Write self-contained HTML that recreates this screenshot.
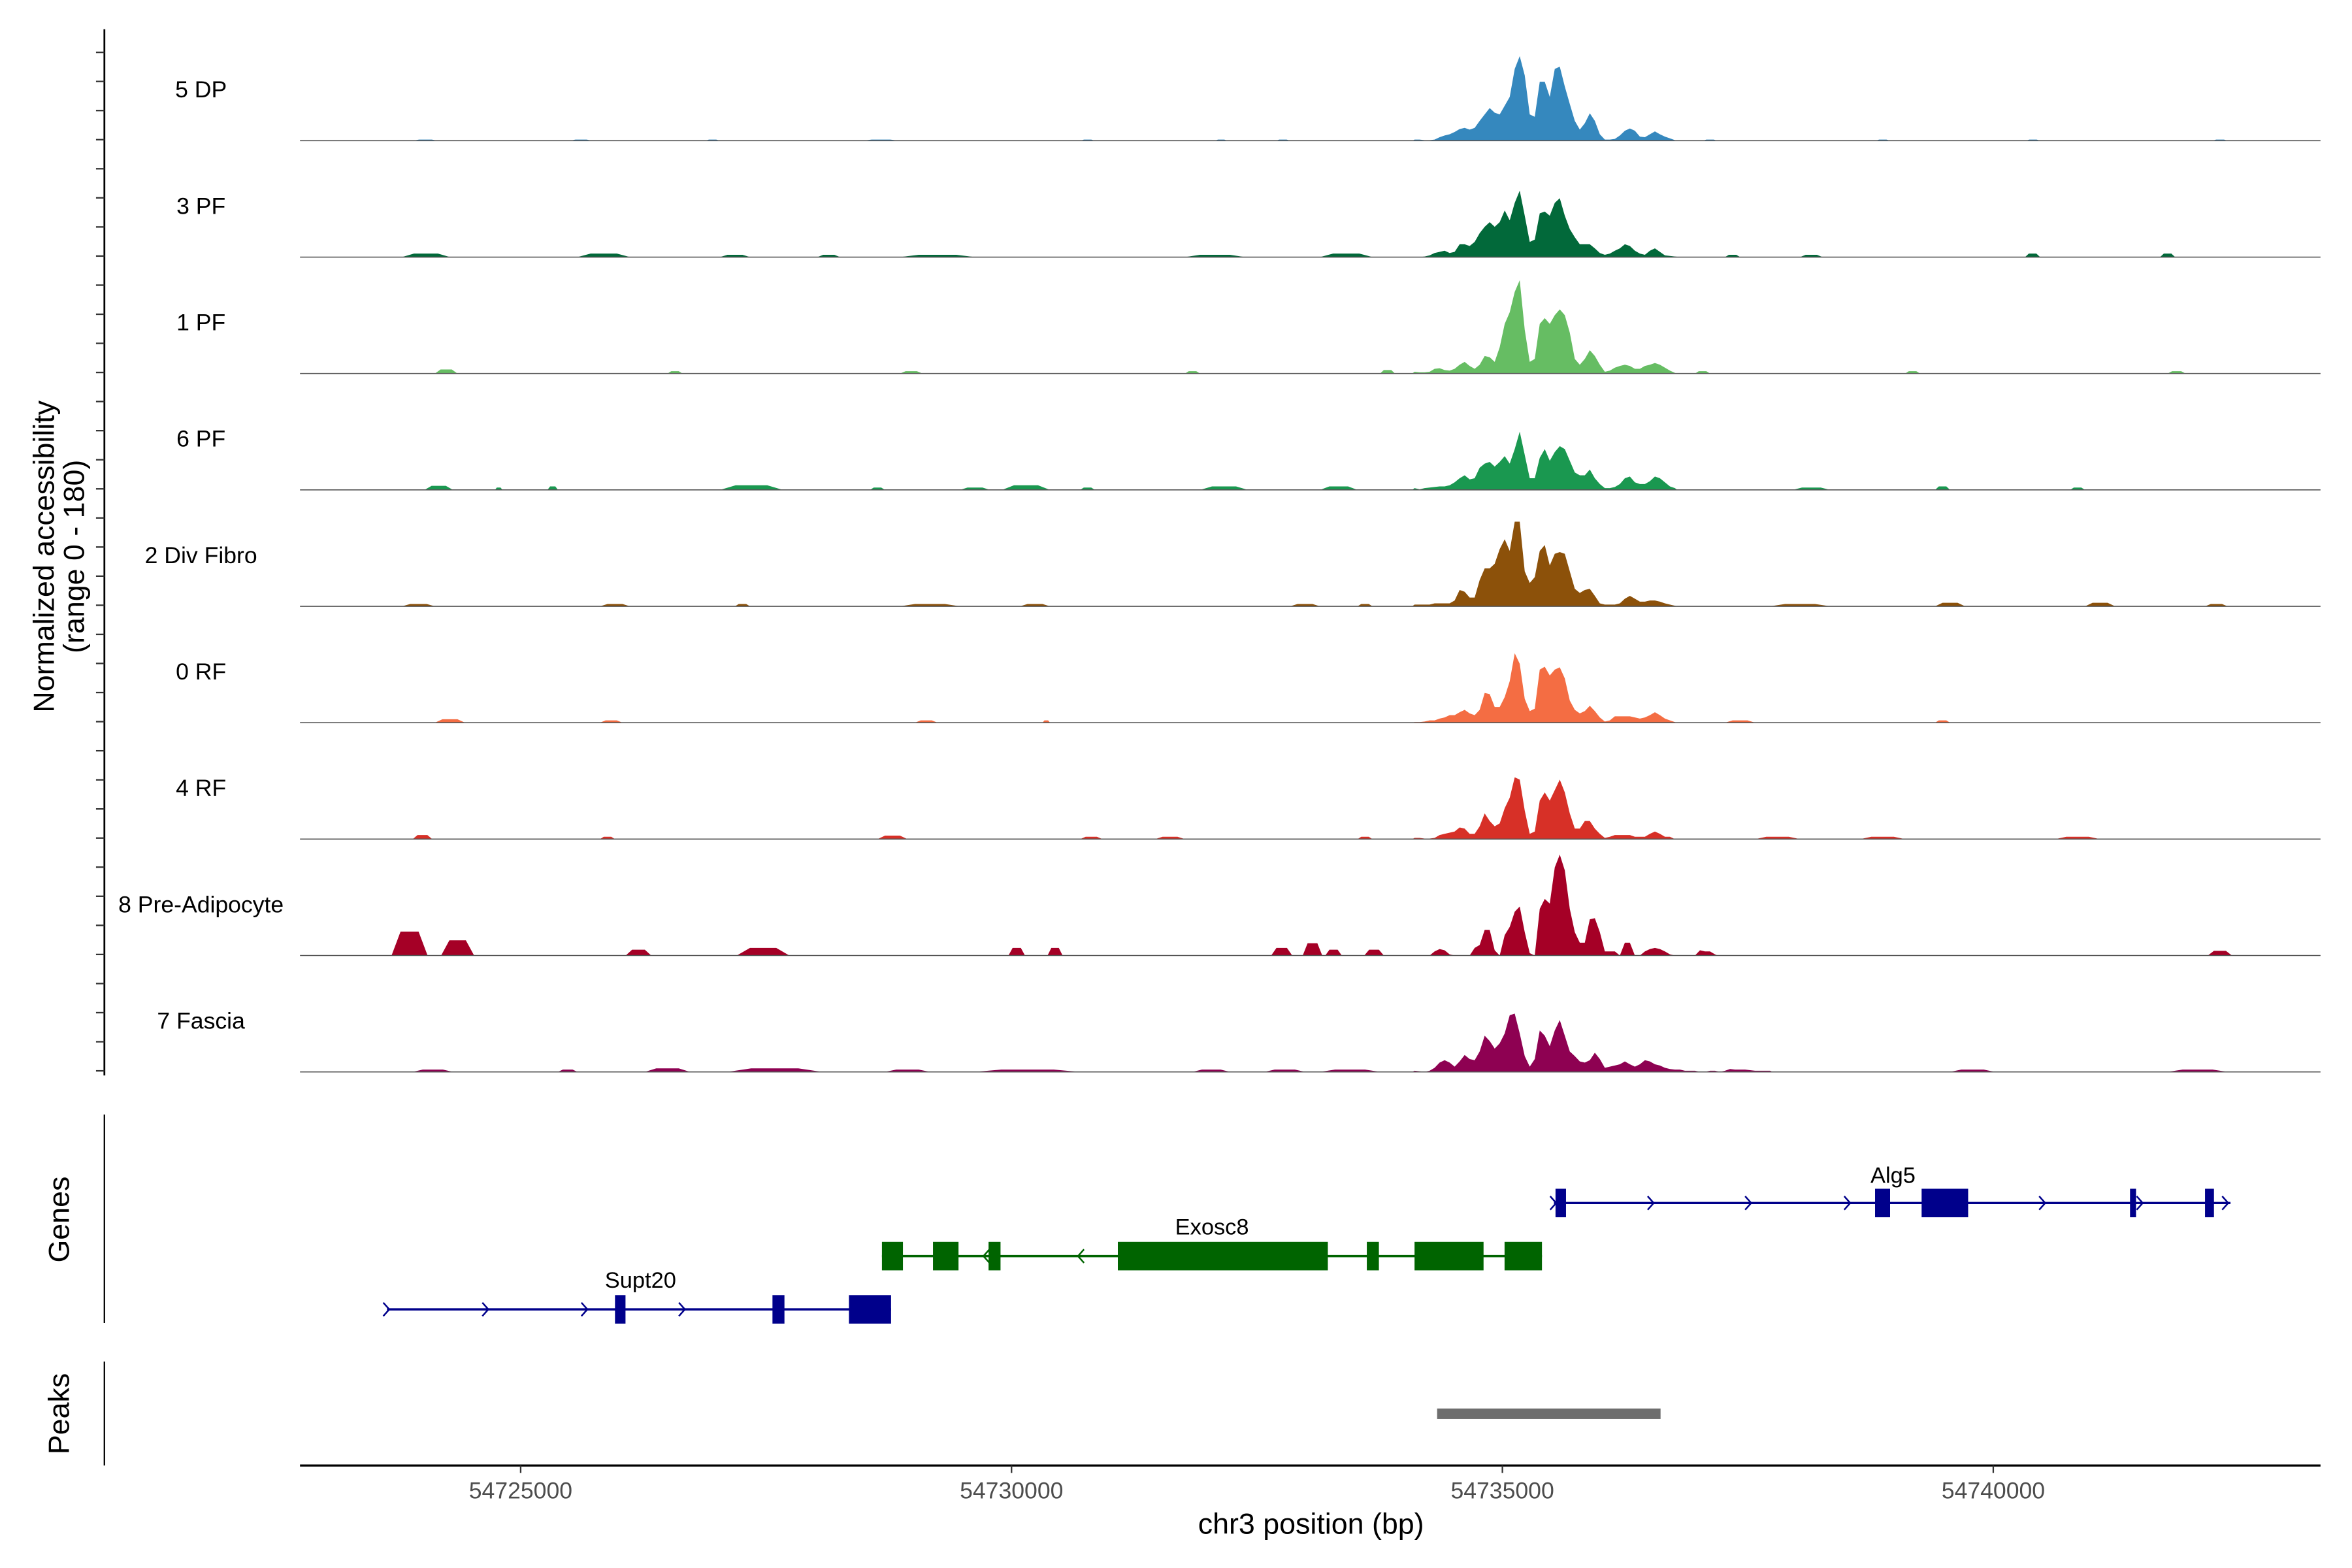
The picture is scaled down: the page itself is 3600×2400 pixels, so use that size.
<!DOCTYPE html>
<html><head><meta charset="utf-8">
<style>
html,body{margin:0;padding:0;background:#fff;}
svg{display:block;font-family:"Liberation Sans",Arial,sans-serif;}
</style></head>
<body>
<svg id="chart" xmlns="http://www.w3.org/2000/svg" width="3600" height="2400" viewBox="0 0 1568 1045.33">
<rect x="0" y="0" width="1568" height="1045.33" fill="#fff"/>
<g id="tracks"></g>
<g id="yaxis"></g>
<text transform="translate(36,371) rotate(-90)" text-anchor="middle" font-size="19.5" fill="#000">Normalized accessibility</text>
<text transform="translate(56,371) rotate(-90)" text-anchor="middle" font-size="19.5" fill="#000">(range 0 - 180)</text>
<g id="genes"></g>
<line x1="69.6" y1="743" x2="69.6" y2="882" stroke="#000" stroke-width="1"/>
<text transform="translate(46,813) rotate(-90)" text-anchor="middle" font-size="19.5" fill="#000">Genes</text>
<line x1="69.6" y1="907.7" x2="69.6" y2="977" stroke="#000" stroke-width="1"/>
<text transform="translate(46,942.5) rotate(-90)" text-anchor="middle" font-size="19.5" fill="#000">Peaks</text>
<g id="peaks"></g>
<g id="xaxis"></g>
<text x="874" y="1022.5" text-anchor="middle" font-size="19.5" fill="#000">chr3 position (bp)</text>
</svg>
<script>
// ---------- data ----------
const regionStart = 54720000;
const binStart = 14080;   // relative bp of first profile bin
const binSize = 51;
const trackNames = ["5 DP","3 PF","1 PF","6 PF","2 Div Fibro","0 RF","4 RF","8 Pre-Adipocyte","7 Fascia"];
const trackColors = ["#3588BE","#02693A","#66BD63","#1A9850","#8C510A","#F46D43","#D73027","#A50026","#8E0152"];
const dp5 = [2,2,1,1,2,6,9,11,15,20,22,19,22,34,45,56,48,45,60,75,123,145,112,45,41,101,101,75,123,127,93,63,34,19,30,47,34,11,2,2,3,9,17,21,17,7,6,11,16,11,7,4,1,1,1];
const pf3 = [0,0,1,3,7,9,11,7,9,22,22,19,26,41,52,60,52,60,80,63,93,114,71,26,30,75,78,71,93,101,71,48,34,22,22,22,15,7,4,6,11,15,22,19,11,6,4,11,15,9,3,2,1,0,0];
const pf1 = [3,2,2,3,8,9,6,5,8,15,20,13,8,15,30,28,20,45,85,105,140,160,75,20,25,85,95,85,100,110,100,70,25,15,25,40,30,15,3,5,10,13,15,13,8,8,13,15,18,15,10,5,1];
const pf6 = [3,1,3,4,5,6,6,8,13,20,25,18,20,38,45,48,40,48,58,45,70,100,60,20,20,55,70,50,65,75,70,50,30,25,25,35,20,10,3,3,5,10,20,23,13,10,10,15,23,20,13,6,3];
const divFibro2 = [3,3,3,3,5,5,5,5,10,28,25,15,15,45,65,65,73,98,115,95,145,145,60,40,50,95,105,70,90,93,90,60,30,23,28,30,18,5,3,3,3,5,13,18,13,8,8,10,10,8,5,3,1];
const rf0 = [1,1,2,4,4,7,9,13,13,18,22,16,13,22,51,49,27,27,44,71,119,101,41,20,24,91,96,81,91,95,76,38,22,16,20,29,20,9,2,4,11,11,11,11,9,7,9,13,18,13,7,4,1];
const rf4 = [2,2,1,1,2,7,9,11,13,20,18,9,9,22,44,31,22,27,53,71,106,102,49,9,13,66,80,66,84,102,80,44,18,18,31,31,18,9,2,4,7,7,7,7,4,4,4,9,13,9,4,4,0];
const preAdipo8 = [0,0,0,0,7,11,9,2,0,0,0,0,13,18,44,44,9,0,35,49,75,84,40,4,0,80,97,89,151,173,146,80,40,22,22,62,64,40,7,7,7,0,22,22,0,0,7,11,13,11,7,2,0,0,0,0,0,9,7,7,2];
const fascia7 = [2,1,0,2,7,16,20,16,9,18,29,22,20,35,62,53,40,49,66,97,100,66,27,9,22,71,62,44,71,89,62,35,27,18,16,20,33,22,7,9,11,13,18,13,9,13,20,18,13,11,7,5,4,4,2,2,2,0,0,2,2,0,2,5,4,4,4,3,2,2,2,2];
const trackValues = [dp5,pf3,pf1,pf6,divFibro2,rf0,rf4,preAdipo8,fascia7];
// background bumps: [startBp, endBp, value] relative to regionStart
const bumps5dp = [[3900,4160,2],[5500,5730,2],[6880,7030,2],[8480,8860,2],[10700,10850,2],[12070,12200,2],[12690,12840,2],[17040,17190,2],[18800,18950,2],[20330,20480,2],[22230,22390,2]];
const bumps3pf = [[3791,4280,6],[5579,6114,6],[7030,7336,4],[8024,8253,4],[8864,9628,4],[11767,12378,4],[13142,13677,6],[17268,17421,4],[18032,18261,4],[20324,20477,6],[21699,21852,6]];
const bumps1pf = [[4127,4356,7],[6496,6648,4],[8864,9093,4],[11767,11920,4],[13754,13906,6],[16962,17115,4],[19102,19254,4],[21776,21959,4]];
const bumps6pf = [[4020,4311,7],[4738,4815,4],[5273,5380,6],[7030,7672,8],[8558,8711,4],[9475,9781,4],[9903,10392,8],[10698,10850,4],[11920,12409,6],[13142,13524,6],[17956,18338,4],[19407,19560,6],[20782,20935,4]];
const bumpsDiv2 = [[3791,4127,4],[5808,6114,4],[7183,7336,4],[8864,9475,4],[10086,10392,4],[12837,13142,4],[13524,13677,4],[17726,18338,4],[19407,19713,6],[20935,21241,6],[22158,22387,4]];
const bumps0rf = [[4127,4433,6],[5808,6037,4],[9017,9246,4],[10316,10392,4],[17268,17574,4],[19407,19560,4]];
const bumps4rf = [[3900,4100,7],[5808,5961,4],[8635,8940,6],[10698,10927,4],[11462,11767,4],[13524,13677,4],[17574,18032,4],[18643,19102,4],[20630,21088,4]];
const bumps8pa = [[3685,4052,41],[4190,4526,26],[6070,6330,10],[7202,7737,13],[9969,10137,13],[10367,10520,13],[12645,12859,13],[12966,13165,21],[13196,13364,10],[13593,13792,10],[22186,22431,8]];
const bumps7f = [[3900,4311,4],[5380,5579,4],[6266,6725,6],[7107,8069,6],[8711,9170,4],[9628,10698,4],[11844,12226,4],[12577,12990,4],[13142,13754,4],[19560,20018,4],[21776,22387,4]];
const trackBumps = [bumps5dp,bumps3pf,bumps1pf,bumps6pf,bumpsDiv2,bumps0rf,bumps4rf,bumps8pa,bumps7f];
// genes
const geneNames = ["Alg5","Exosc8","Supt20"];
const geneStarts = [15525,8680,3639];
const geneEnds = [22416,15403,8773];
const geneStrands = ["+","-","+"];
const geneColors = ["#00008B","#006400","#00008B"];
const alg5Exons = [[15541,15648],[18796,18949],[19270,19744],[21393,21454],[22157,22248]];
const exosc8Exons = [[8680,8894],[9200,9460],[9766,9888],[11083,13222],[13619,13742],[14105,14808],[15022,15403]];
const supt20Exons = [[5961,6068],[7565,7687],[8344,8773]];
const geneExons = [alg5Exons,exosc8Exons,supt20Exons];
const alg5Arrows = [15525,16518,17511,18520,20506,21499,22370];
const exosc8Arrows = [9737,10700];
const supt20Arrows = [3639,4648,5657,6650];
const geneArrows = [alg5Arrows,exosc8Arrows,supt20Arrows];
// peaks
const peakStarts = [14335];
const peakEnds = [16611];
// x ticks
const xTickValues = [5000,10000,15000,20000];
const xTickLabels = ["54725000","54730000","54735000","54740000"];
const yRangeMax = 180;

// ---------- scales ----------
const X0 = 200, X1 = 1547;
function xScale(rel){ return 347.1 + (rel - 5000) * 0.06545; }
const trackBase0 = 93.8, trackStep = 77.6, trackPx = 70;
function yScale(v, i){ return trackBase0 + i*trackStep - v / yRangeMax * trackPx; }
const geneY = [802, 837.4, 872.9];
const NS = "http://www.w3.org/2000/svg";
function mk(tag, attrs, parent){
  const e = document.createElementNS(NS, tag);
  for (const k in attrs) e.setAttribute(k, attrs[k]);
  parent.appendChild(e);
  return e;
}

// ---------- tracks ----------
const tracksG = document.getElementById("tracks");
trackNames.forEach((name, i) => {
  const base = yScale(0, i);
  const g = mk("g", {}, tracksG);
  
  
  trackBumps[i].forEach(b => {
    const xa = xScale(b[0]), xb = xScale(b[1]), yt = yScale(b[2], i);
    const w = xb - xa;
    const p = mk("polygon", {points: `${xa},${base} ${xa+w*0.25},${yt} ${xb-w*0.25},${yt} ${xb},${base}`, fill: trackColors[i]}, g);
    
    
  });
  const vals = trackValues[i];
  let d = `M${xScale(binStart)},${base}`;
  vals.forEach((v, k) => {
    const xc = xScale(binStart + (k+0.5)*binSize);
    d += ` L${xc},${yScale(v, i)}`;
  });
  d += ` L${xScale(binStart + vals.length*binSize)},${base} Z`;
  const area = mk("path", {d: d, fill: trackColors[i]}, g);
  
  
  const bl = mk("line", {x1: X0, x2: X1, y1: base, y2: base, stroke: "#555", "stroke-width": 0.7}, g);
  
  
  const lab = mk("text", {x: 134, y: base - 28.8, "text-anchor": "middle", "font-size": 15.5, fill: "#000"}, g);
  lab.textContent = name;
  
  
});

// ---------- y axis ----------
const yG = document.getElementById("yaxis");
const yl = mk("line", {x1: 69.6, x2: 69.6, y1: 19.5, y2: 717, stroke: "#000", "stroke-width": 1.2}, yG);


for (let k = 0; k < 36; k++){
  const y = 713.9 - k*19.4;
  const t = mk("line", {x1: 64, x2: 69.6, y1: y, y2: y, stroke: "#333", "stroke-width": 1}, yG);
  
  
}

// ---------- genes ----------
const gG = document.getElementById("genes");
geneNames.forEach((name, i) => {
  const y = geneY[i], col = geneColors[i];
  const g = mk("g", {}, gG);
  
  
  const ln = mk("line", {x1: xScale(geneStarts[i]), x2: xScale(geneEnds[i]), y1: y, y2: y, stroke: col, "stroke-width": 1.5}, g);
  
  
  geneArrows[i].forEach(a => {
    const x = xScale(a);
    const dir = geneStrands[i] === "+" ? 1 : -1;
    const ar = mk("path", {d: `M${x-2.5*dir},${y-4.5} L${x+1.5*dir},${y} L${x-2.5*dir},${y+4.5}`, fill: "none", stroke: col, "stroke-width": 1.1}, g);
    
    
  });
  geneExons[i].forEach(e => {
    const r = mk("rect", {x: xScale(e[0]), y: y - 9.5, width: Math.max(xScale(e[1]) - xScale(e[0]), 2), height: 19, fill: col}, g);
    
    
  });
});
const labelX = [1262, 808, 427];
const labelY = [788.5, 823, 858.5];
geneNames.forEach((name, i) => {
  const t = mk("text", {x: labelX[i], y: labelY[i], "text-anchor": "middle", "font-size": 15, fill: "#000"}, gG);
  t.textContent = name;
  
  
});

// ---------- peaks ----------
const pG = document.getElementById("peaks");
peakStarts.forEach((s, i) => {
  const r = mk("rect", {x: xScale(s), y: 939, width: xScale(peakEnds[i]) - xScale(s), height: 7, fill: "#6E6E6E"}, pG);
  
  
});

// ---------- x axis ----------
const xG = document.getElementById("xaxis");
const xl = mk("line", {x1: X0, x2: X1, y1: 977, y2: 977, stroke: "#000", "stroke-width": 1.4}, xG);


xTickValues.forEach((v, k) => {
  const x = xScale(v);
  const t = mk("line", {x1: x, x2: x, y1: 977, y2: 982, stroke: "#333", "stroke-width": 1}, xG);
  
  
  const lb = mk("text", {x: x, y: 999, "text-anchor": "middle", "font-size": 15.5, fill: "#4D4D4D"}, xG);
  lb.textContent = xTickLabels[k];
  
  
});
</script>
</body></html>
